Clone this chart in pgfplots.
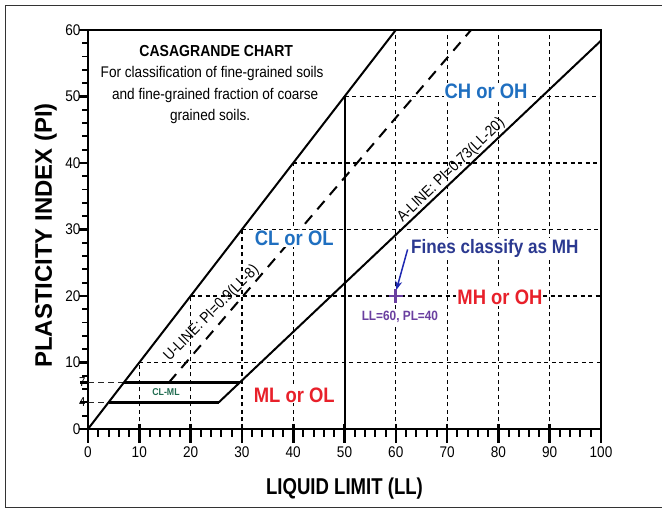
\documentclass[border=0pt]{standalone}
\usepackage{fontspec}
\setmainfont{Liberation Sans}
\newfontfamily\nar[FakeStretch=0.88]{Liberation Sans}
\newfontfamily\narr[FakeStretch=0.81]{Liberation Sans}
\usepackage{pgfplots}
\pgfplotsset{compat=1.18}
\usetikzlibrary{arrows.meta}
\definecolor{cblue}{HTML}{1F6FC0}
\definecolor{cred}{HTML}{E8202A}
\definecolor{cnavy}{HTML}{2B3990}
\definecolor{cpurp}{HTML}{6A3FA0}
\definecolor{cgreen}{HTML}{1F6B4F}
\newcommand{\fs}[1]{\fontsize{#1}{#1}\selectfont}
\pgfplotsset{gridl/.style={line width=1.2bp, black, dash pattern=on 4bp off 3.5bp}}
\begin{document}
\begin{tikzpicture}
\useasboundingbox (0,0) rectangle (662bp,510bp);
\draw[line width=1bp, black!80] (662bp,504bp) -- (5bp,504bp) -- (5bp,2bp) -- (662bp,2bp);
\begin{axis}[
 at={(88bp,81bp)}, anchor=south west,
 width=513bp, height=399bp, scale only axis,
 xmin=0,xmax=100,ymin=0,ymax=60,
 xtick={0,10,...,100}, ytick={0,10,...,60},
 xtick pos=bottom, ytick pos=left,
 tick style={draw=none},
 axis line style={line width=1.8bp},
 extra y ticks={4,7},
 extra y tick style={yticklabel style={font=\nar\fs{13}, xshift=5bp}},
 ticklabel style={font=\nar\fs{15.5}},
 xticklabel style={yshift=-14bp},
 yticklabel style={xshift=-4bp},
 /pgf/number format/assume math mode=true,
 xlabel={LIQUID LIMIT (LL)},
 ylabel={PLASTICITY INDEX (PI)},
 xlabel style={font=\narr\bfseries\fs{23}, at={(axis description cs:0.5,-0.1654)}, anchor=base},
 ylabel style={font=\bfseries\fs{24}, at={(axis description cs:-0.0702,0.485)}, anchor=base},
 clip=false,
]
% partial grid below the PI=LL line
\addplot[gridl] coordinates {(10,0)(10,10)};
\addplot[gridl] coordinates {(20,0)(20,20)};
\addplot[gridl] coordinates {(30,0)(30,30)};
\addplot[gridl] coordinates {(40,0)(40,40)};
\addplot[gridl] coordinates {(60,0)(60,60)};
\addplot[gridl] coordinates {(70,0)(70,60)};
\addplot[gridl] coordinates {(80,0)(80,60)};
\addplot[gridl] coordinates {(90,0)(90,60)};
\addplot[gridl] coordinates {(10,10)(100,10)};
\addplot[gridl] coordinates {(20,20)(100,20)};
\addplot[gridl] coordinates {(30,30)(100,30)};
\addplot[gridl] coordinates {(40,40)(100,40)};
\addplot[gridl] coordinates {(50,50)(100,50)};
\addplot[line width=0.8bp, black!85, dash pattern=on 6bp off 4bp] coordinates {(0,7)(7,7)};
\addplot[line width=0.8bp, black!85, dash pattern=on 6bp off 4bp] coordinates {(0,4)(4,4)};
% main lines
\addplot[line width=2bp] coordinates {(0,0)(60,60)};
\addplot[line width=2bp] coordinates {(25.48,4)(100,58.4)};
\addplot[line width=2bp] coordinates {(50,0)(50,50)};
\addplot[line width=3bp] coordinates {(4,4)(25.48,4)};
\addplot[line width=3bp] coordinates {(7,7)(29.59,7)};
\addplot[line width=2bp, dash pattern=on 11bp off 8bp] coordinates {(15.78,7)(74.67,60)};
% title block
\node[font=\nar\bfseries\fs{16}, anchor=base] at (axis cs:25.0,56.09) {CASAGRANDE CHART};
\node[font=\nar\fs{15.5}, anchor=base] at (axis cs:24.2,52.89) {For classification of fine-grained soils};
\node[font=\nar\fs{15.5}, anchor=base] at (axis cs:24.8,49.58) {and fine-grained fraction of coarse};
\node[font=\nar\fs{15.5}, anchor=base] at (axis cs:23.8,46.36) {grained soils.};
% line labels
\node[rotate=45.5, font=\nar\fs{15.5}] at (axis cs:24.1,17.4) {U-LINE: PI=0.9(LL-8)};
\node[rotate=44, font=\nar\fs{15.5}] at (axis cs:70.8,38.9) {A-LINE: PI=0.73(LL-20)};
% region labels
\node[font=\nar\bfseries\fs{21}, text=cblue, fill=white, inner sep=1bp] at (axis cs:40.2,28.7) {CL or OL};
\node[font=\nar\bfseries\fs{21}, text=cblue, fill=white, inner sep=1bp] at (axis cs:77.6,50.8) {CH or OH};
\node[font=\nar\bfseries\fs{21}, text=cred, fill=white, inner sep=1bp] at (axis cs:40.2,5.1) {ML or OL};
\node[font=\nar\bfseries\fs{21}, text=cred, fill=white, inner sep=1bp] at (axis cs:80.3,19.8) {MH or OH};
\node[font=\nar\bfseries\fs{10}, text=cgreen] at (axis cs:15.2,5.5) {CL-ML};
\node[font=\nar\bfseries\fs{19.5}, text=cnavy, fill=white, inner sep=1bp] at (axis cs:79.3,27.2) {Fines classify as MH};
\node[font=\nar\bfseries\fs{13.5}, text=cpurp, fill=white, inner sep=1bp] at (axis cs:60.8,16.8) {LL=60, PL=40};
% arrow and point
\draw[-{Stealth[length=9bp,width=7bp]}, color=cnavy!70!blue, line width=1.5bp] (axis cs:62.3,27.0) -- (axis cs:60.1,20.9);
\addplot[only marks, mark=+, mark size=7pt, color=cpurp, mark options={line width=2.8pt}] coordinates {(60,20)};
\end{axis}
% axis tick marks
\foreach \i in {0,...,10} {
  \pgfmathsetmacro{\xx}{88+51.3*\i}
  \draw[line width=2.6bp, black] (\xx bp,86bp) -- (\xx bp,67bp);
}
\foreach \j in {1,2,3,4,6,7,8,9,11,12,13,14,16,17,18,19,21,22,23,24,26,27,28,29,31,32,33,34,36,37,38,39,41,42,43,44,46,47,48,49} {
  \pgfmathsetmacro{\xx}{88+10.26*\j}
  \draw[line width=2bp, black] (\xx bp,81bp) -- (\xx bp,73bp);
}
\foreach \k in {0,...,6} {
  \pgfmathsetmacro{\yy}{81+66.5*\k}
  \draw[line width=2.4bp, black] (88bp,\yy bp) -- (79bp,\yy bp);
}
\draw[line width=2.2bp, black] (88bp,107.6bp) -- (80bp,107.6bp);
\draw[line width=2.2bp, black] (88bp,127.55bp) -- (80bp,127.55bp);
\foreach \k in {1,3,4,6,7,8,9,11,12,13,14,16,17,18,19,21,22,23,24,26,27,28,29} {
  \pgfmathsetmacro{\yy}{81+13.3*\k}
  \draw[line width=1.8bp, black] (88bp,\yy bp) -- (82bp,\yy bp);
}
\end{tikzpicture}
\end{document}
